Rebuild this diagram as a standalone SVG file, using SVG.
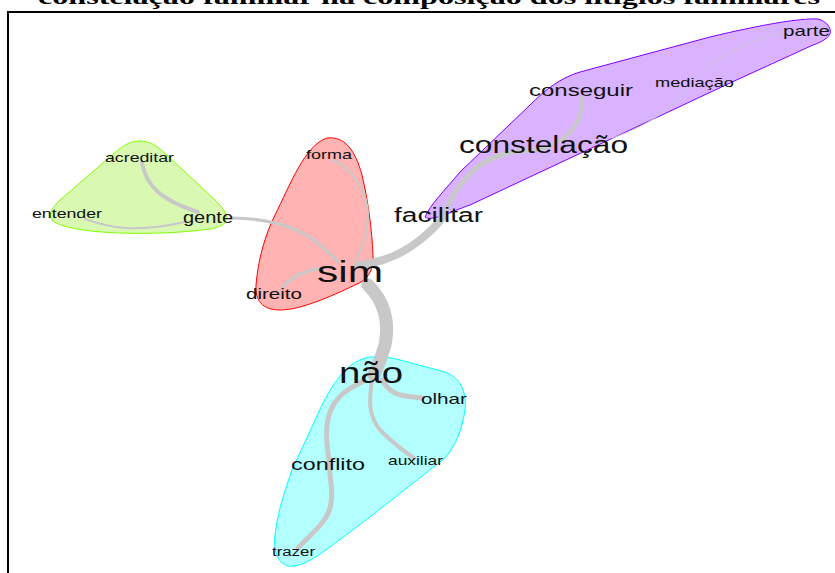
<svg xmlns="http://www.w3.org/2000/svg" width="835" height="573" viewBox="0 0 835 573">
<style>
.t{font-family:"Liberation Sans",Arial,sans-serif;fill:#111;}
.e{fill:none;stroke:#c8c8c8;stroke-linecap:round;}
.title{font-family:"Liberation Serif","Times New Roman",serif;font-weight:bold;font-size:22px;fill:#000;}
</style>
<rect width="835" height="573" fill="#fff"/>
<text class="title" x="38" y="4" textLength="782" lengthAdjust="spacingAndGlyphs">constelação familiar na composição dos litígios familiares</text>
<rect x="8" y="12" width="840" height="600" fill="none" stroke="#000" stroke-width="2"/>

<g id="hull-green"><path d="M140,141 C150,141 158,146 170,158 L215,200 C232,216 230,226 210,229 C180,233 150,234 120,233 C90,232 60,228 52,220 C48,214 52,208 60,200 L118,150 C127,143 133,141 140,141 Z" fill="#d9f9b3" stroke="#80ff00" stroke-width="1"/></g>
<g id="hull-red"><path d="M327,138 C345,136 355,150 362,175 C368,200 372,230 373,255 C374,270 368,280 355,285 C330,297 300,310 280,310 C262,310 255,300 256,285 C258,260 265,235 275,215 C290,185 305,145 327,138 Z" fill="#ffb3b3" stroke="#ff0000" stroke-width="1"/></g>
<g id="hull-purple"><path d="M425,217 C430,205 445,190 460,172 L530,105 C545,90 560,78 580,72 L710,37 C760,25 800,18 818,19 C826,21 832,28 830,34 C828,38 822,42 813,45 L730,83 L630,130 L470,205 C450,212 432,222 425,217 Z" fill="#d9b3ff" stroke="#8000ff" stroke-width="1"/></g>
<g id="hull-cyan"><path d="M360,360 C370,355 385,356 400,360 L445,372 C460,377 467,392 465,410 C462,430 456,445 445,458 L370,517 L330,547 C315,558 300,568 288,566 C278,563 273,552 275,535 C278,510 285,490 292,470 L322,405 C332,385 345,366 360,360 Z" fill="#b3ffff" stroke="#00ffff" stroke-width="1"/></g>

<g id="connectors">
<path class="e" d="M142,163 C146,185 160,200 198,212" stroke-width="4"/>
<path class="e" d="M85,219 C110,228 135,233 185,222" stroke-width="2"/>
<path class="e" d="M232,218 C280,219 310,230 338,262" stroke-width="3"/>
<path class="e" d="M333,160 C355,170 368,195 368,215 C368,235 360,250 355,265" stroke-width="2"/>
<path class="e" d="M283,287 C292,276 305,270 325,268" stroke-width="3"/>
<path class="e" d="M360,265 C385,262 405,252 420,240 C430,232 437,225 442,218" stroke-width="8"/>
<path class="e" d="M442,218 C450,200 460,180 480,165 C495,155 510,152 530,150" stroke-width="5"/>
<path class="e" d="M582,98 C582,115 578,125 565,137 C555,145 545,150 530,150" stroke-width="4"/>
<path class="e" d="M612,138 C650,125 670,110 690,85 C705,65 740,40 785,33" stroke-width="1"/>
<path class="e" d="M368,285 C383,300 390,320 385,345 C381,360 377,368 374,375" stroke-width="13"/>
<path class="e" d="M362,382 C345,390 330,400 327,425 C325,445 330,460 330,475" stroke-width="5"/>
<path class="e" d="M330,475 C333,495 333,510 322,523 C312,535 305,540 298,548" stroke-width="5"/>
<path class="e" d="M372,380 C369,400 368,415 380,430 C390,440 402,450 414,458" stroke-width="4"/>
<path class="e" d="M382,380 C388,390 395,395 405,396 L422,398" stroke-width="5"/>
</g>

<g id="n-acreditar"><text class="t" x="105" y="162" font-size="13" textLength="69" lengthAdjust="spacingAndGlyphs">acreditar</text></g>
<g id="n-entender"><text class="t" x="32" y="218" font-size="13" textLength="70" lengthAdjust="spacingAndGlyphs">entender</text></g>
<g id="n-gente"><text class="t" x="183" y="223" font-size="16" textLength="50" lengthAdjust="spacingAndGlyphs">gente</text></g>
<g id="n-forma"><text class="t" x="306" y="159" font-size="13" textLength="46" lengthAdjust="spacingAndGlyphs">forma</text></g>
<g id="n-sim"><text class="t" x="317" y="282" font-size="30" textLength="66" lengthAdjust="spacingAndGlyphs">sim</text></g>
<g id="n-direito"><text class="t" x="246" y="299" font-size="14" textLength="56" lengthAdjust="spacingAndGlyphs">direito</text></g>
<g id="n-facilitar"><text class="t" x="394" y="222" font-size="20" textLength="89" lengthAdjust="spacingAndGlyphs">facilitar</text></g>
<g id="n-constelacao"><text class="t" x="459" y="153" font-size="23" textLength="169" lengthAdjust="spacingAndGlyphs">constelação</text></g>
<g id="n-conseguir"><text class="t" x="529" y="96" font-size="17" textLength="104" lengthAdjust="spacingAndGlyphs">conseguir</text></g>
<g id="n-mediacao"><text class="t" x="655" y="87" font-size="13" textLength="79" lengthAdjust="spacingAndGlyphs">mediação</text></g>
<g id="n-parte"><text class="t" x="783" y="36" font-size="15" textLength="47" lengthAdjust="spacingAndGlyphs">parte</text></g>
<g id="n-nao"><text class="t" x="339" y="383" font-size="29" textLength="64" lengthAdjust="spacingAndGlyphs">não</text></g>
<g id="n-olhar"><text class="t" x="421" y="404" font-size="15" textLength="46" lengthAdjust="spacingAndGlyphs">olhar</text></g>
<g id="n-conflito"><text class="t" x="291" y="470" font-size="17" textLength="74" lengthAdjust="spacingAndGlyphs">conflito</text></g>
<g id="n-auxiliar"><text class="t" x="388" y="465" font-size="13" textLength="55" lengthAdjust="spacingAndGlyphs">auxiliar</text></g>
<g id="n-trazer"><text class="t" x="272" y="556" font-size="12" textLength="43" lengthAdjust="spacingAndGlyphs">trazer</text></g>
</svg>
